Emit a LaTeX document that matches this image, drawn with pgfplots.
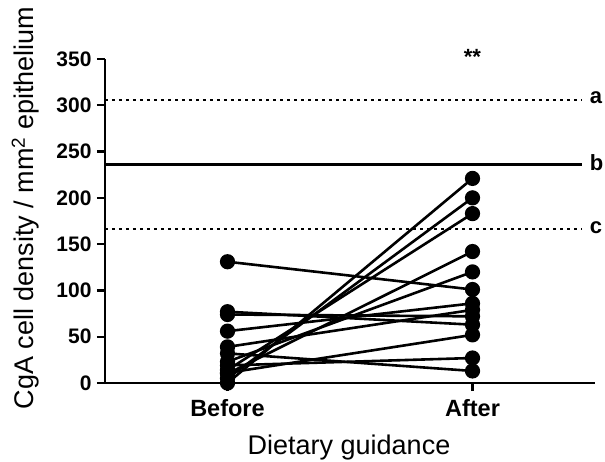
\documentclass[border=0pt]{standalone}
\usepackage{pgfplots}
\pgfplotsset{compat=1.18}
\usepackage{fontspec}
\setmainfont{Liberation Sans}

\pgfplotsset{pair/.style={black, line width=2.6pt, mark=*, mark size=6.3pt, mark options={solid}}}

\begin{document}
\begin{tikzpicture}
\useasboundingbox (-105pt,-78pt) rectangle (500pt,383pt);
\begin{axis}[
  at={(0,0)}, anchor=south west,
  scale only axis, width=490pt, height=324pt,
  xmin=-0.5, xmax=1.5, ymin=0, ymax=350,
  axis x line=bottom, axis y line=left,
  axis line style={-, line width=2.4pt},
  xtick={0,1}, xticklabels={Before,After},
  ytick={0,50,...,350},
  tick align=outside, major tick length=8pt,
  tick style={line width=2.2pt, black},
  /pgf/number format/assume math mode=true,
  yticklabel style={font=\fontsize{21}{24}\selectfont\bfseries, xshift=-2pt},
  xticklabel style={font=\fontsize{23.5}{26}\selectfont\bfseries, yshift=-5pt},
  xlabel={Dietary guidance},
  ylabel={CgA cell density / mm\textsuperscript{2} epithelium},
  label style={font=\fontsize{27}{30}\selectfont},
  xlabel style={at={(axis description cs:0.498,0)}, anchor=base, yshift=-71pt},
  ylabel style={at={(axis description cs:-0.145,0.54)}, anchor=base},
  clip=false,
]
% reference levels
\addplot[black, line width=2.2pt, dash pattern=on 3pt off 4pt] coordinates {(-0.5,306) (1.447,306)};
\addplot[black, line width=2.6pt] coordinates {(-0.5,236) (1.447,236)};
\addplot[black, line width=2.2pt, dash pattern=on 3pt off 4pt] coordinates {(-0.5,166) (1.447,166)};
\node[anchor=west, font=\fontsize{22}{26}\selectfont\bfseries] at (axis cs:1.465,308) {a};
\node[anchor=west, font=\fontsize{22}{26}\selectfont\bfseries] at (axis cs:1.465,238) {b};
\node[anchor=west, font=\fontsize{22}{26}\selectfont\bfseries] at (axis cs:1.465,168) {c};
\node[font=\fontsize{22}{26}\selectfont\bfseries] at (axis cs:1,352) {**};
% paired subjects (before, after)
\addplot[pair] coordinates {(0,0) (1,221)};
\addplot[pair] coordinates {(0,5) (1,200)};
\addplot[pair] coordinates {(0,14) (1,183)};
\addplot[pair] coordinates {(0,10) (1,142)};
\addplot[pair] coordinates {(0,23) (1,120)};
\addplot[pair] coordinates {(0,131) (1,101)};
\addplot[pair] coordinates {(0,77) (1,63)};
\addplot[pair] coordinates {(0,74) (1,72)};
\addplot[pair] coordinates {(0,56) (1,86)};
\addplot[pair] coordinates {(0,39) (1,79)};
\addplot[pair] coordinates {(0,11) (1,52)};
\addplot[pair] coordinates {(0,19) (1,27)};
\addplot[pair] coordinates {(0,32) (1,13)};
\end{axis}
\end{tikzpicture}
\end{document}
